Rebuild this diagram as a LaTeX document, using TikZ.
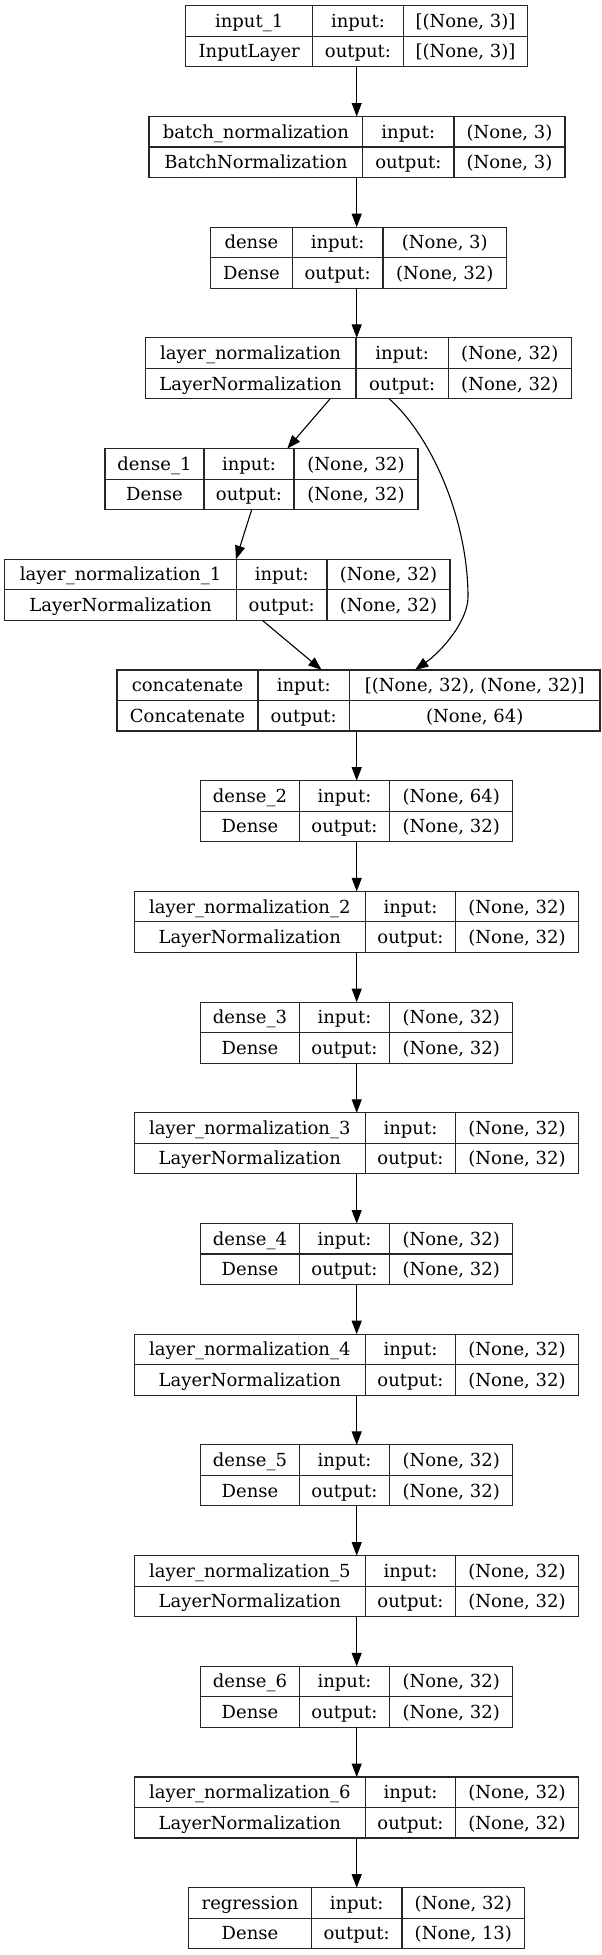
\documentclass[tikz,border=0pt]{standalone}
\usepackage{fontspec}
\setmainfont{DejaVu Serif}
\usetikzlibrary{arrows.meta,calc}
\newcommand\kbox[9]{%
  \def\kbN{#1}\def\kbT{#2}\def\kbA{#3}\def\kbB{#4}\def\kbC{#5}\def\kbD{#6}%
  \def\kbP{#7}\def\kbQ{#8}\def\kbR{#9}\kbfinish}
\newcommand\kbfinish[1]{%
  \pgfmathsetmacro\kbcx{(\kbA+\kbD)/2}%
  \pgfmathsetmacro\kbw{\kbD-\kbA}%
  \node[box,minimum width=\kbw pt,minimum height=61pt] (\kbN) at (\kbcx,\kbT+30.5) {};
  \draw[sepline] (\kbN.west) -- (\kbN.east);
  \draw[sepline] (\kbB,\kbT) -- (\kbB,\kbT+61);
  \draw[sepline] (\kbC,\kbT) -- (\kbC,\kbT+61);
  \node[txt] (\kbN-1) at ({(\kbA+\kbB)/2},\kbT+21.6) {\kbP};
  \node[txt] (\kbN-2) at ({(\kbA+\kbB)/2},\kbT+52.1) {\kbQ};
  \node[txt] (\kbN-3) at ({(\kbB+\kbC)/2},\kbT+21.6) {input:};
  \node[txt] (\kbN-4) at ({(\kbB+\kbC)/2},\kbT+52.1) {output:};
  \node[txt] (\kbN-5) at ({(\kbC+\kbD)/2},\kbT+21.6) {\kbR};
  \node[txt] (\kbN-6) at ({(\kbC+\kbD)/2},\kbT+52.1) {#1};
}
\begin{document}
\begin{tikzpicture}[x=1pt,y=-1pt,
  box/.style={draw=black!85,line width=1.1pt,inner sep=0pt,outer sep=0pt},
  sepline/.style={draw=black!85,line width=1.1pt},
  txt/.style={inner sep=0pt,anchor=base,font=\fontsize{18}{20}\selectfont},
  arr/.style={draw=black,line width=1.1pt,-{Triangle[length=13.5pt,width=10pt]}}]
\fill[white] (0,0) rectangle (602,1955);
\useasboundingbox (0,0) rectangle (602,1955);
\coordinate (axis) at (356.7,0);

\kbox{L0}{5.8}{185.7}{312.7}{403.3}{527.7}{input\_1}{InputLayer}{[(None, 3)]}{[(None, 3)]}
\kbox{L1}{116.5}{149}{362.7}{454}{565}{batch\_normalization}{BatchNormalization}{(None, 3)}{(None, 3)}
\kbox{L2}{227.2}{210.5}{292.3}{383}{506.6}{dense}{Dense}{(None, 3)}{(None, 32)}
\kbox{L3}{337.9}{145.2}{356}{448.3}{571.4}{layer\_normalization}{LayerNormalization}{(None, 32)}{(None, 32)}
\kbox{L4}{448.6}{105}{204}{294}{418}{dense\_1}{Dense}{(None, 32)}{(None, 32)}
\kbox{L5}{559.3}{4.6}{236.5}{327}{450}{layer\_normalization\_1}{LayerNormalization}{(None, 32)}{(None, 32)}
\kbox{L6}{670.0}{117}{258}{349.5}{600}{concatenate}{Concatenate}{[(None, 32), (None, 32)]}{(None, 64)}
\kbox{L7}{780.7}{200.7}{299.3}{389.7}{512.7}{dense\_2}{Dense}{(None, 64)}{(None, 32)}
\kbox{L8}{891.4}{134.3}{365.3}{455.7}{578.3}{layer\_normalization\_2}{LayerNormalization}{(None, 32)}{(None, 32)}
\kbox{L9}{1002.1}{200.7}{299.3}{389.7}{512.7}{dense\_3}{Dense}{(None, 32)}{(None, 32)}
\kbox{L10}{1112.8}{134.3}{365.3}{455.7}{578.3}{layer\_normalization\_3}{LayerNormalization}{(None, 32)}{(None, 32)}
\kbox{L11}{1223.5}{200.7}{299.3}{389.7}{512.7}{dense\_4}{Dense}{(None, 32)}{(None, 32)}
\kbox{L12}{1334.2}{134.3}{365.3}{455.7}{578.3}{layer\_normalization\_4}{LayerNormalization}{(None, 32)}{(None, 32)}
\kbox{L13}{1444.9}{200.7}{299.3}{389.7}{512.7}{dense\_5}{Dense}{(None, 32)}{(None, 32)}
\kbox{L14}{1555.6}{134.3}{365.3}{455.7}{578.3}{layer\_normalization\_5}{LayerNormalization}{(None, 32)}{(None, 32)}
\kbox{L15}{1666.3}{200.7}{299.3}{389.7}{512.7}{dense\_6}{Dense}{(None, 32)}{(None, 32)}
\kbox{L16}{1777.0}{134.3}{365.3}{455.7}{578.3}{layer\_normalization\_6}{LayerNormalization}{(None, 32)}{(None, 32)}
\kbox{L17}{1887.7}{188.7}{311.3}{402}{524.7}{regression}{Dense}{(None, 32)}{(None, 13)}

\draw[arr] (L0.south -| axis) -- (L1.north -| axis);
\draw[arr] (L1.south -| axis) -- (L2.north -| axis);
\draw[arr] (L2.south -| axis) -- (L3.north -| axis);
\draw[arr] ([xshift=-28.3pt]L3.south) -- ([xshift=25.8pt]L4.north);
\coordinate (bend) at (468,597);
\draw[arr] ([xshift=31pt]L3.south) .. controls (432,437) and (468,520) .. (bend)
  .. controls (468,620) and (443.3,650) .. ([xshift=56.5pt]L6.north);
\draw[arr] ([xshift=-9.8pt]L4.south) -- ([xshift=8.7pt]L5.north);
\draw[arr] ([xshift=35pt]L5.south) -- ([xshift=-36.8pt]L6.north);
\foreach \a/\b in {L6/L7,L7/L8,L8/L9,L9/L10,L10/L11,L11/L12,L12/L13,L13/L14,L14/L15,L15/L16,L16/L17}
  \draw[arr] (\a.south -| axis) -- (\b.north -| axis);
\end{tikzpicture}
\end{document}
